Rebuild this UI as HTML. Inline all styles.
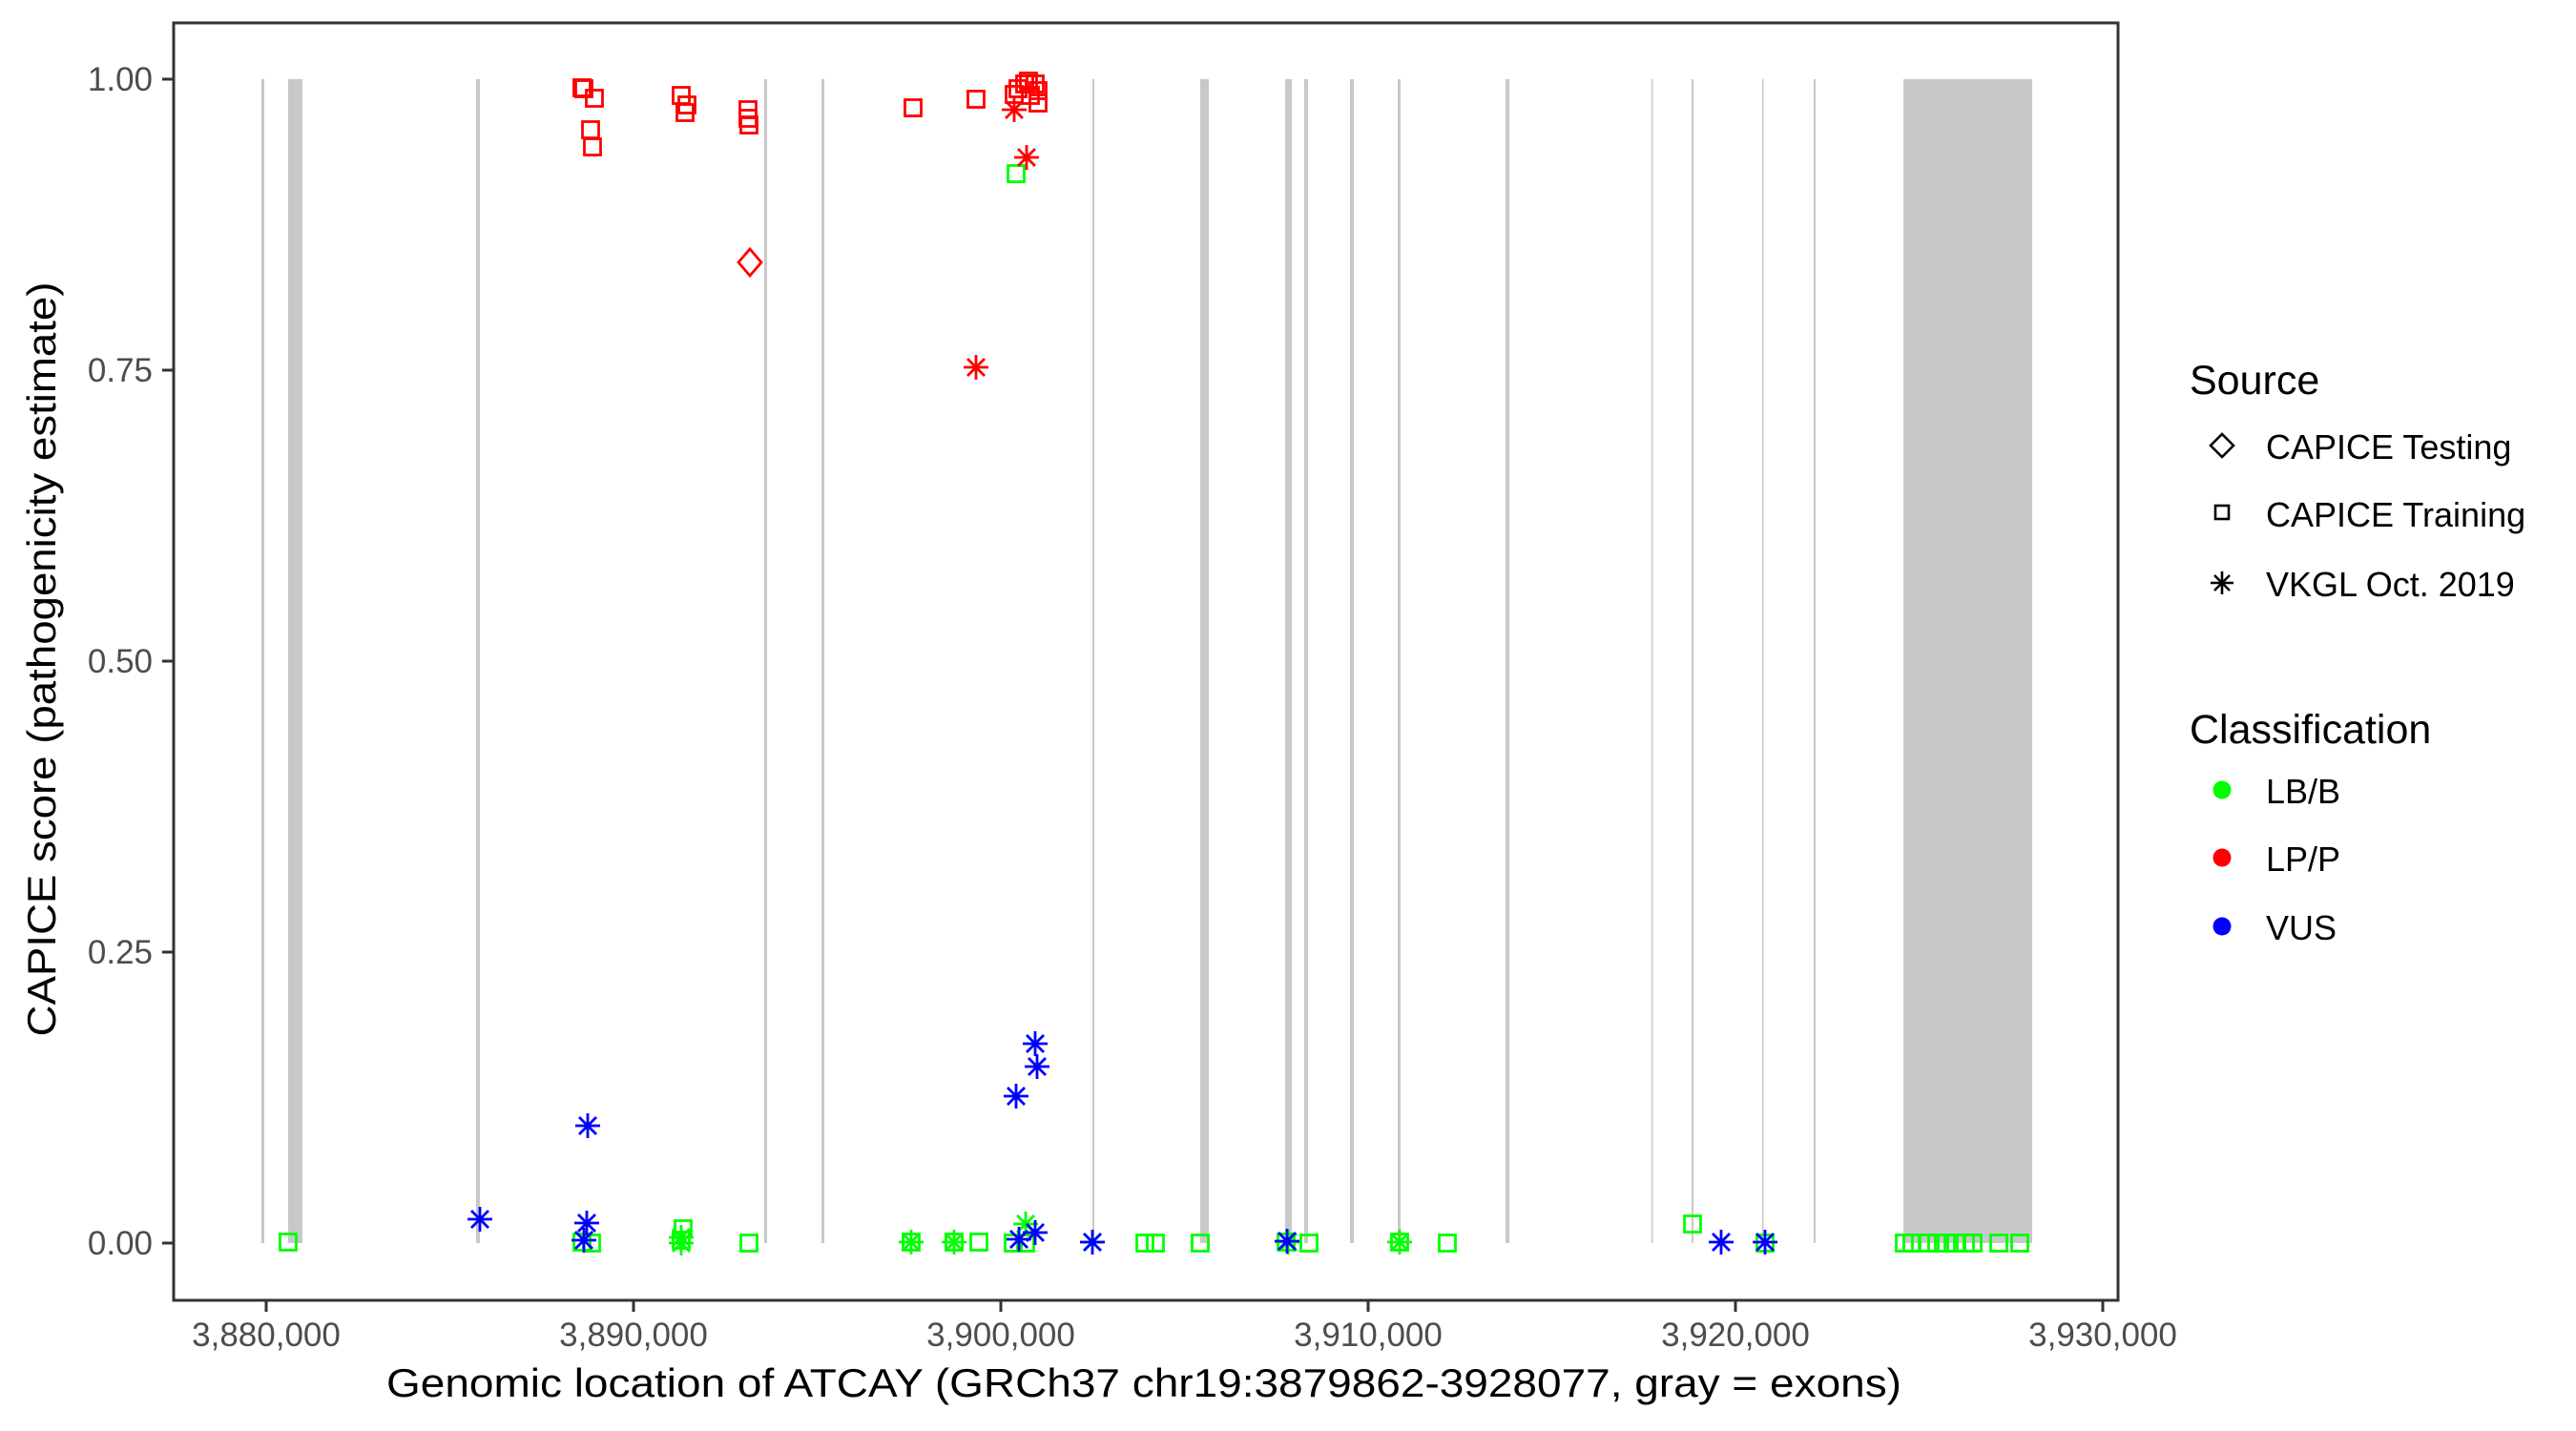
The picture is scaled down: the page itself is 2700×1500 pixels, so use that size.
<!DOCTYPE html>
<html><head><meta charset="utf-8"><style>html,body{margin:0;padding:0;background:#fff}svg{display:block}</style></head>
<body>
<svg width="2700" height="1500" viewBox="0 0 2700 1500" xmlns="http://www.w3.org/2000/svg" font-family="Liberation Sans, Arial, sans-serif">
<defs>
<rect id="sq" x="-8.5" y="-8.5" width="17" height="17" fill="none" stroke-width="2.8"/>
<path id="di" d="M0,-14 L12,0 L0,14 L-12,0 Z" fill="none" stroke-width="2.8"/>
<path id="as" d="M0,-13V13M-13,0H13M-9,-9L9,9M-9,9L9,-9" fill="none" stroke-width="2.8"/>
</defs>
<rect width="2700" height="1500" fill="#fff"/>
<g fill="#c8c8c8">
<rect x="274" y="83" width="3" height="1220"/>
<rect x="302" y="83" width="15" height="1220"/>
<rect x="499" y="83" width="4" height="1220"/>
<rect x="801" y="83" width="3" height="1220"/>
<rect x="861" y="83" width="3" height="1220"/>
<rect x="1145" y="83" width="2" height="1220"/>
<rect x="1258" y="83" width="9" height="1220"/>
<rect x="1347" y="83" width="7" height="1220"/>
<rect x="1367" y="83" width="4" height="1220"/>
<rect x="1415" y="83" width="4" height="1220"/>
<rect x="1465" y="83" width="3" height="1220"/>
<rect x="1578" y="83" width="4" height="1220"/>
<rect x="1731" y="83" width="1.5" height="1220"/>
<rect x="1773" y="83" width="2" height="1220"/>
<rect x="1847" y="83" width="1.5" height="1220"/>
<rect x="1901" y="83" width="2" height="1220"/>
<rect x="1995" y="83" width="135" height="1220"/>
</g>
<g stroke="#00ff00">
<use href="#sq" x="302" y="1302"/>
<use href="#sq" x="610" y="1302"/><use href="#sq" x="620" y="1303"/>
<use href="#sq" x="716" y="1288"/><use href="#sq" x="714" y="1300"/><use href="#as" x="714" y="1297"/><use href="#as" x="714" y="1303"/>
<use href="#sq" x="785" y="1303"/>
<use href="#sq" x="955" y="1302"/><use href="#as" x="955" y="1302"/>
<use href="#sq" x="1000" y="1302"/><use href="#as" x="1000" y="1302"/>
<use href="#sq" x="1026" y="1302"/>
<use href="#sq" x="1062" y="1303"/><use href="#sq" x="1075" y="1303"/><use href="#as" x="1075" y="1283"/>
<use href="#sq" x="1065" y="182"/>
<use href="#as" x="1145" y="1302"/>
<use href="#sq" x="1200" y="1303"/><use href="#sq" x="1211" y="1303"/>
<use href="#sq" x="1258" y="1303"/>
<use href="#sq" x="1348" y="1302"/><use href="#as" x="1350" y="1302"/>
<use href="#sq" x="1372" y="1303"/>
<use href="#sq" x="1467" y="1302"/><use href="#as" x="1467" y="1302"/>
<use href="#sq" x="1517" y="1303"/>
<use href="#sq" x="1774" y="1283"/>
<use href="#sq" x="1850" y="1303"/>
<use href="#sq" x="1996" y="1303"/><use href="#sq" x="2004" y="1303"/><use href="#sq" x="2020" y="1303"/><use href="#sq" x="2030" y="1303"/><use href="#sq" x="2040" y="1303"/><use href="#sq" x="2050" y="1303"/><use href="#sq" x="2060" y="1303"/><use href="#sq" x="2068" y="1303"/>
<use href="#sq" x="2095" y="1303"/><use href="#sq" x="2117" y="1303"/>
</g>
<g stroke="#0000ff">
<use href="#as" x="503" y="1278"/>
<use href="#as" x="616" y="1180"/>
<use href="#as" x="615" y="1282"/>
<use href="#as" x="612" y="1300"/>
<use href="#as" x="1085" y="1094"/>
<use href="#as" x="1087" y="1118"/>
<use href="#as" x="1065" y="1149"/>
<use href="#as" x="1068" y="1299"/>
<use href="#as" x="1085" y="1292"/>
<use href="#as" x="1145" y="1302"/>
<use href="#as" x="1349" y="1301"/>
<use href="#as" x="1804" y="1302"/>
<use href="#as" x="1850" y="1302"/>
</g>
<g stroke="#ff0000">
<use href="#sq" x="610" y="92"/><use href="#sq" x="612" y="93"/><use href="#sq" x="623" y="103"/>
<use href="#sq" x="619" y="136"/><use href="#sq" x="621" y="154"/>
<use href="#sq" x="714" y="100"/><use href="#sq" x="720" y="110"/><use href="#sq" x="718" y="118"/>
<use href="#sq" x="784" y="115"/><use href="#sq" x="784" y="124"/><use href="#sq" x="785" y="131"/>
<use href="#di" x="786" y="275"/>
<use href="#sq" x="957" y="113"/>
<use href="#sq" x="1023" y="104"/>
<use href="#sq" x="1063" y="99"/><use href="#sq" x="1067" y="93"/><use href="#sq" x="1074" y="88"/><use href="#sq" x="1078" y="85"/><use href="#sq" x="1085" y="88"/><use href="#sq" x="1088" y="95"/><use href="#sq" x="1088" y="108"/><use href="#sq" x="1080" y="100"/>
<use href="#as" x="1063" y="115"/>
<use href="#as" x="1076" y="165"/>
<use href="#as" x="1023" y="385"/>
</g>
<rect x="182" y="24" width="2038" height="1339" fill="none" stroke="#333" stroke-width="3"/>
<g stroke="#333" stroke-width="3">
<line x1="170" y1="83" x2="182" y2="83"/><line x1="170" y1="388" x2="182" y2="388"/><line x1="170" y1="693" x2="182" y2="693"/><line x1="170" y1="998" x2="182" y2="998"/><line x1="170" y1="1303" x2="182" y2="1303"/>
<line x1="279" y1="1363" x2="279" y2="1375"/><line x1="664" y1="1363" x2="664" y2="1375"/><line x1="1049" y1="1363" x2="1049" y2="1375"/><line x1="1434" y1="1363" x2="1434" y2="1375"/><line x1="1819" y1="1363" x2="1819" y2="1375"/><line x1="2204" y1="1363" x2="2204" y2="1375"/>
</g>
<g fill="#4d4d4d" font-size="35" text-anchor="end">
<text x="160" y="95">1.00</text><text x="160" y="400">0.75</text><text x="160" y="705">0.50</text><text x="160" y="1010">0.25</text><text x="160" y="1315">0.00</text>
</g>
<g fill="#4d4d4d" font-size="35" text-anchor="middle">
<text x="279" y="1411">3,880,000</text><text x="664" y="1411">3,890,000</text><text x="1049" y="1411">3,900,000</text><text x="1434" y="1411">3,910,000</text><text x="1819" y="1411">3,920,000</text><text x="2204" y="1411">3,930,000</text>
</g>
<text x="405" y="1464" font-size="42" textLength="1588" lengthAdjust="spacingAndGlyphs">Genomic location of ATCAY (GRCh37 chr19:3879862-3928077, gray = exons)</text>
<text transform="translate(58,691) rotate(-90)" font-size="42" text-anchor="middle" textLength="791" lengthAdjust="spacingAndGlyphs">CAPICE score (pathogenicity estimate)</text>
<text x="2295" y="413" font-size="43">Source</text>
<g stroke="#000">
<path d="M2329,455 L2341,467 L2329,479 L2317,467 Z" fill="none" stroke-width="2.6"/>
<rect x="2322" y="530" width="14" height="14" fill="none" stroke-width="2.6"/>
<path d="M2329,599V623M2317,611H2341M2321,603L2337,619M2321,619L2337,603" stroke-width="2.6"/>
</g>
<g font-size="36">
<text x="2375" y="481">CAPICE Testing</text>
<text x="2375" y="552">CAPICE Training</text>
<text x="2375" y="625">VKGL Oct. 2019</text>
</g>
<text x="2295" y="779" font-size="43">Classification</text>
<circle cx="2329" cy="828" r="9.5" fill="#00ff00"/>
<circle cx="2329" cy="899" r="9.5" fill="#ff0000"/>
<circle cx="2329" cy="971" r="9.5" fill="#0000ff"/>
<g font-size="36">
<text x="2375" y="842">LB/B</text>
<text x="2375" y="913">LP/P</text>
<text x="2375" y="985">VUS</text>
</g>
</svg>
</body></html>
